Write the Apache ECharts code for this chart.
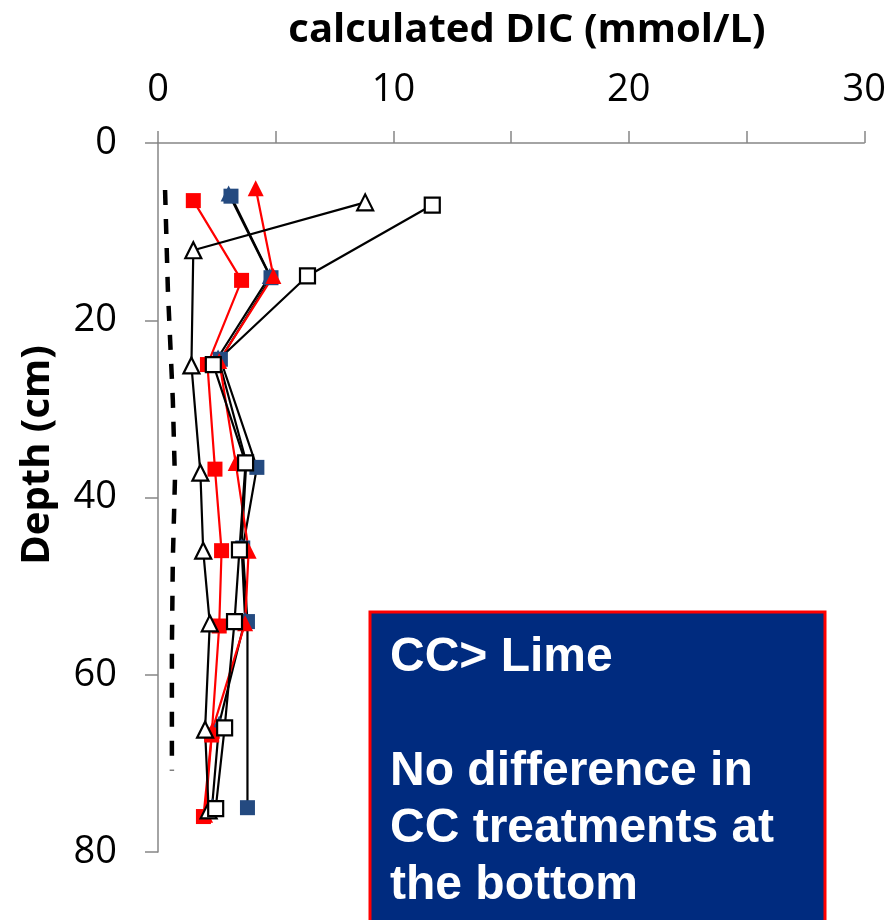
<!DOCTYPE html>
<html>
<head>
<meta charset="utf-8">
<script src="https://cdn.jsdelivr.net/npm/echarts@6/dist/echarts.min.js"></script>
<style>
  html, body { margin: 0; padding: 0; background: #fff; }
  #chart { width: 889px; height: 920px; }
</style>
</head>
<body>
<div id="chart"></div>
<script>
// Depth profiles of calculated DIC (mmol/L) against depth (cm)
const depthLimeSq  = [6.5, 15.5, 25, 36.8, 46, 54.5, 66.8, 76];
const dicLimeSq    = [1.5, 3.55, 2.1, 2.42, 2.7, 2.6, 2.28, 1.93];
const depthLimeTri = [5.1, 15, 24.6, 36.1, 46, 54.2, 66.3, 75.8];
const dicLimeTri   = [4.15, 4.9, 2.6, 3.3, 3.85, 3.7, 2.3, 2.0];
const depthCCSq    = [6, 15.2, 24.4, 36.6, 45.7, 54, 75];
const dicCCSq      = [3.1, 4.8, 2.65, 4.2, 3.6, 3.8, 3.8];
const depthCCTri   = [5.7, 15, 24.2, 36, 45.5, 53.8, 65.5, 74.8];
const dicCCTri     = [3.0, 4.75, 2.55, 3.75, 3.55, 3.7, 2.6, 2.3];
const depthOpenSq  = [7, 15, 25, 36.1, 45.9, 54, 66, 75.1];
const dicOpenSq    = [11.65, 6.35, 2.35, 3.72, 3.46, 3.25, 2.83, 2.45];
const depthOpenTri = [6.7, 12.1, 25.1, 37.2, 46, 54.2, 66.2, 75.3];
const dicOpenTri   = [8.8, 1.5, 1.42, 1.8, 1.92, 2.2, 2.0, 2.15];
const depthControl = [5.3, 16.6, 29, 38, 47, 57, 70.8];
const dicControl   = [0.3, 0.42, 0.63, 0.72, 0.63, 0.59, 0.59];

const xTicks = [0, 10, 20, 30];
const yTicks = [0, 20, 40, 60, 80];
const noteLines = ['CC> Lime', '', 'No difference in', 'CC treatments at', 'the bottom'];

const pair = (xs, ys) => xs.map((v, i) => [v, ys[i]]);

const RED = '#FF0000';
const BLUE = '#244A80';

function markerSeries(name, xs, ys, symbol, fill, stroke, lineColor) {
  return {
    name: name,
    type: 'line',
    data: pair(xs, ys),
    symbol: symbol,
    symbolSize: symbol === 'rect' ? 15 : 16,
    showSymbol: true,
    lineStyle: { color: lineColor, width: 2.2 },
    itemStyle: { color: fill, borderColor: stroke, borderWidth: stroke ? 2.2 : 0, opacity: 1 },
    emphasis: { disabled: true },
    animation: false
  };
}

const chart = echarts.init(document.getElementById('chart'), null, { renderer: 'canvas' });

chart.setOption({
  animation: false,
  textStyle: { fontFamily: 'Open Sans' },
  grid: { left: 158, top: 143, right: 21, bottom: 68, containLabel: false },
  xAxis: {
    type: 'value',
    position: 'top',
    min: 0, max: 30, interval: 5,
    axisLine: { show: true, lineStyle: { color: '#868686', width: 1.5 } },
    axisTick: { show: true, length: 12, lineStyle: { color: '#868686', width: 1.5 } },
    axisLabel: {
      margin: 34, fontSize: 38, color: '#000', fontFamily: 'Open Sans',
      formatter: v => (xTicks.indexOf(v) >= 0 ? String(v) : '')
    },
    splitLine: { show: false }
  },
  yAxis: {
    type: 'value',
    inverse: true,
    min: 0, max: 80, interval: 20,
    axisLine: { show: true, lineStyle: { color: '#868686', width: 1.5 } },
    axisTick: { show: true, length: 13, lineStyle: { color: '#868686', width: 1.5 } },
    axisLabel: {
      margin: 41, fontSize: 38, color: '#000', fontFamily: 'Open Sans',
      formatter: v => (yTicks.indexOf(v) >= 0 ? String(v) : '')
    },
    splitLine: { show: false }
  },
  series: [
    {
      name: 'Control',
      type: 'line',
      data: pair(dicControl, depthControl),
      symbol: 'none',
      lineStyle: { color: '#000', width: 4.5, type: [15, 14] },
      emphasis: { disabled: true }
    },
    markerSeries('CC triangle', dicCCTri, depthCCTri, 'triangle', BLUE, null, '#000'),
    markerSeries('CC square', dicCCSq, depthCCSq, 'rect', BLUE, null, '#000'),
    markerSeries('Lime square', dicLimeSq, depthLimeSq, 'rect', RED, null, RED),
    markerSeries('Lime triangle', dicLimeTri, depthLimeTri, 'triangle', RED, null, RED),
    markerSeries('Open triangle', dicOpenTri, depthOpenTri, 'triangle', '#fff', '#000', '#000'),
    markerSeries('Open square', dicOpenSq, depthOpenSq, 'rect', '#fff', '#000', '#000')
  ],
  graphic: [
    {
      type: 'text',
      x: 527, y: 31,
      style: {
        text: 'calculated DIC (mmol/L)',
        font: 'bold 40px "Open Sans"',
        fill: '#000',
        align: 'center',
        verticalAlign: 'middle'
      }
    },
    {
      type: 'text',
      x: 38, y: 455,
      rotation: Math.PI / 2,
      style: {
        text: 'Depth (cm)',
        font: 'bold 40px "Open Sans"',
        fill: '#000',
        align: 'center',
        verticalAlign: 'middle'
      }
    },
    {
      type: 'group',
      x: 370, y: 612,
      z: 100,
      children: [
        {
          type: 'rect',
          shape: { x: 0, y: 0, width: 455, height: 330 },
          style: { fill: '#002B7F', stroke: '#FF0000', lineWidth: 3 }
        },
        {
          type: 'text',
          x: 20, y: 17,
          style: {
            text: noteLines.join('\n'),
            font: 'bold 48px "Liberation Sans"',
            lineHeight: 57,
            fill: '#FFFFFF',
            align: 'left',
            verticalAlign: 'top'
          }
        }
      ]
    }
  ]
});
</script>
</body>
</html>
